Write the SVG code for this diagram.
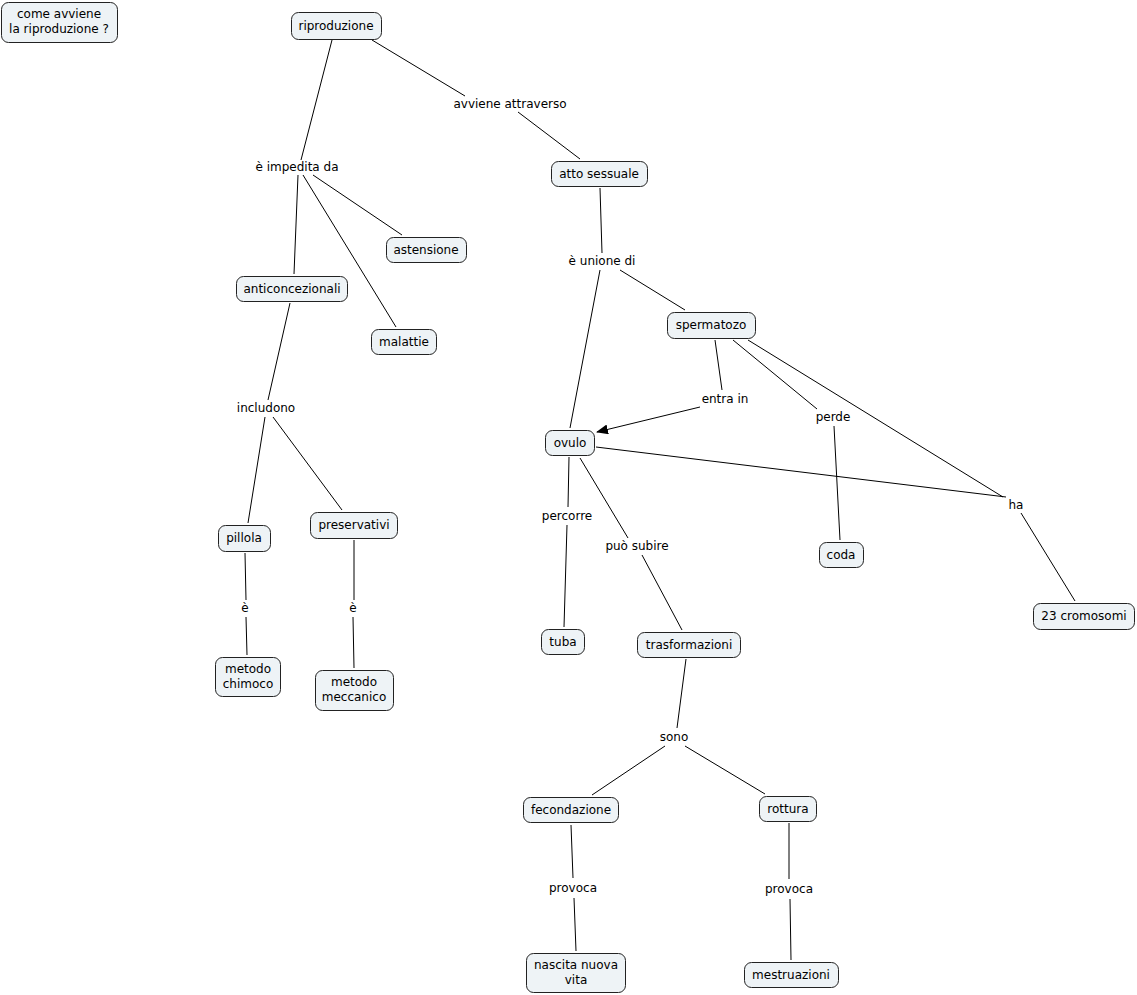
<svg xmlns="http://www.w3.org/2000/svg" width="1137" height="995" viewBox="0 0 1137 995">
<style>
.n rect{fill:#eef3f6;stroke:#222;stroke-width:1}
.n text,.l text{font-family:"DejaVu Sans",Verdana,sans-serif;font-size:12px;fill:#000;text-anchor:middle}
.l rect{fill:#fff}
#links line{stroke:#000;stroke-width:1}
</style>
<defs>
<marker id="arr" markerWidth="12" markerHeight="10" refX="11" refY="5" orient="auto" markerUnits="userSpaceOnUse">
<path d="M0,0 L12,5 L0,10 z" fill="#000"/>
</marker>
</defs>
<rect width="1137" height="995" fill="#fff"/>
<g id="links">
<line x1="332" y1="40" x2="301" y2="160"/>
<line x1="372" y1="40" x2="465" y2="96"/>
<line x1="518" y1="112" x2="580" y2="159"/>
<line x1="298" y1="175" x2="294" y2="274"/>
<line x1="303" y1="175" x2="396" y2="327"/>
<line x1="313" y1="175" x2="402" y2="235"/>
<line x1="600" y1="188" x2="602" y2="253"/>
<line x1="600" y1="270" x2="570" y2="428"/>
<line x1="620" y1="270" x2="685" y2="310"/>
<line x1="290" y1="303" x2="268" y2="400"/>
<line x1="265" y1="417" x2="248" y2="523"/>
<line x1="273" y1="417" x2="342" y2="510"/>
<line x1="715" y1="340" x2="722" y2="390"/>
<line x1="700" y1="407" x2="597" y2="432" marker-end="url(#arr)"/>
<line x1="733" y1="340" x2="817" y2="409"/>
<line x1="834" y1="426" x2="840" y2="540"/>
<line x1="748" y1="340" x2="1003" y2="497"/>
<line x1="596" y1="447" x2="1006" y2="497"/>
<line x1="1021" y1="513" x2="1075" y2="601"/>
<line x1="569" y1="457" x2="568" y2="507"/>
<line x1="567" y1="525" x2="564" y2="627"/>
<line x1="580" y1="458" x2="628" y2="538"/>
<line x1="642" y1="555" x2="682" y2="630"/>
<line x1="245" y1="553" x2="246" y2="600"/>
<line x1="246" y1="617" x2="247" y2="655"/>
<line x1="354" y1="540" x2="354" y2="600"/>
<line x1="353" y1="617" x2="354" y2="668"/>
<line x1="686" y1="659" x2="677" y2="728"/>
<line x1="665" y1="746" x2="592" y2="795"/>
<line x1="685" y1="746" x2="765" y2="794"/>
<line x1="571" y1="825" x2="573" y2="878"/>
<line x1="574" y1="898" x2="576" y2="951"/>
<line x1="789" y1="823" x2="789" y2="879"/>
<line x1="790" y1="899" x2="791" y2="960"/>
</g>
<g id="linklabels" class="l">
<text x="510" y="108">avviene attraverso</text>
<text x="297" y="171">è impedita da</text>
<text x="602" y="265">è unione di</text>
<text x="266" y="412">includono</text>
<text x="725" y="403">entra in</text>
<text x="833" y="421">perde</text>
<text x="1016" y="509">ha</text>
<text x="567" y="520">percorre</text>
<text x="637" y="550">può subire</text>
<text x="245" y="612">è</text>
<text x="353" y="612">è</text>
<text x="674" y="741">sono</text>
<text x="573" y="892">provoca</text>
<text x="789" y="893">provoca</text>
</g>
<g id="n1" class="n"><rect x="1.5" y="2.5" width="116" height="40" rx="7"/><text x="59" y="18">come avviene</text><text x="59" y="33">la riproduzione ?</text></g>
<g id="n2" class="n"><rect x="291.5" y="12.5" width="90" height="27" rx="7"/><text x="336" y="30">riproduzione</text></g>
<g id="n3" class="n"><rect x="551.5" y="161.5" width="96" height="25" rx="7"/><text x="599" y="178">atto sessuale</text></g>
<g id="n4" class="n"><rect x="386.5" y="237.5" width="80" height="25" rx="7"/><text x="426" y="254">astensione</text></g>
<g id="n5" class="n"><rect x="236.5" y="276.5" width="111" height="25" rx="7"/><text x="292" y="293">anticoncezionali</text></g>
<g id="n6" class="n"><rect x="371.5" y="329.5" width="65" height="25" rx="7"/><text x="404" y="346">malattie</text></g>
<g id="n7" class="n"><rect x="667.5" y="312.5" width="88" height="26" rx="7"/><text x="711" y="329">spermatozo</text></g>
<g id="n8" class="n"><rect x="545.5" y="430.5" width="49" height="25" rx="7"/><text x="570" y="447">ovulo</text></g>
<g id="n9" class="n"><rect x="218.5" y="525.5" width="52" height="26" rx="7"/><text x="244" y="542">pillola</text></g>
<g id="n10" class="n"><rect x="310.5" y="512.5" width="87" height="26" rx="7"/><text x="354" y="529">preservativi</text></g>
<g id="n11" class="n"><rect x="819.5" y="542.5" width="44" height="25" rx="7"/><text x="841" y="559">coda</text></g>
<g id="n12" class="n"><rect x="1033.5" y="603.5" width="101" height="26" rx="7"/><text x="1084" y="620">23 cromosomi</text></g>
<g id="n13" class="n"><rect x="541.5" y="629.5" width="43" height="25" rx="7"/><text x="563" y="646">tuba</text></g>
<g id="n14" class="n"><rect x="637.5" y="632.5" width="103" height="25" rx="7"/><text x="689" y="649">trasformazioni</text></g>
<g id="n15" class="n"><rect x="215.5" y="657.5" width="65" height="39" rx="7"/><text x="248" y="673">metodo</text><text x="248" y="688">chimoco</text></g>
<g id="n16" class="n"><rect x="315.5" y="670.5" width="78" height="40" rx="7"/><text x="354" y="686">metodo</text><text x="354" y="701">meccanico</text></g>
<g id="n17" class="n"><rect x="523.5" y="797.5" width="95" height="25" rx="7"/><text x="571" y="814">fecondazione</text></g>
<g id="n18" class="n"><rect x="759.5" y="796.5" width="57" height="25" rx="7"/><text x="788" y="813">rottura</text></g>
<g id="n19" class="n"><rect x="526.5" y="953.5" width="99" height="39" rx="7"/><text x="576" y="969">nascita nuova</text><text x="576" y="984">vita</text></g>
<g id="n20" class="n"><rect x="744.5" y="962.5" width="94" height="25" rx="7"/><text x="791" y="979">mestruazioni</text></g>
</svg>
